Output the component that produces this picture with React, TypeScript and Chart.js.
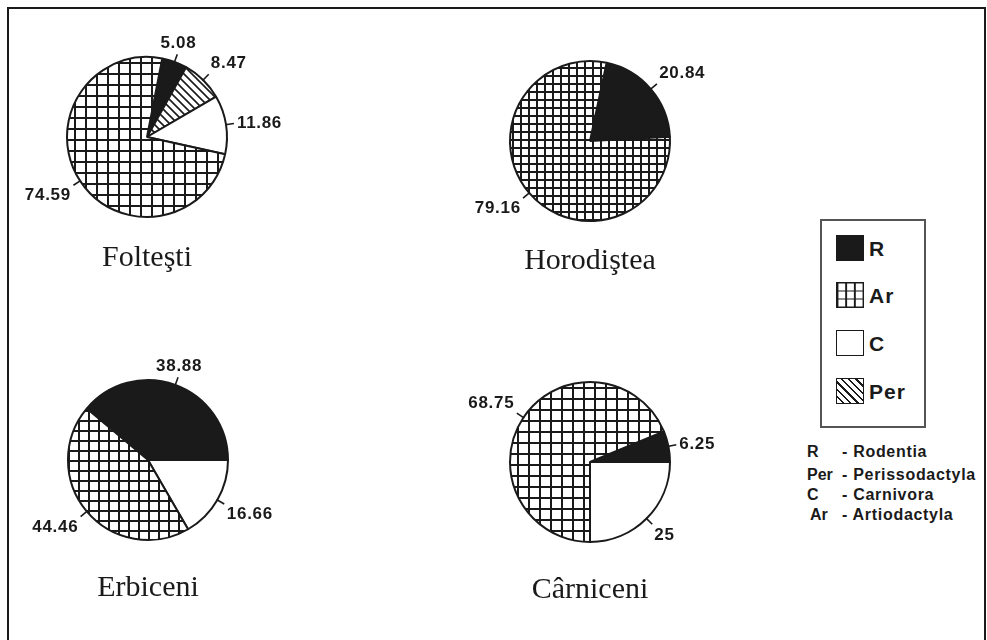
import React, { useEffect, useRef } from "react";
import { Chart, registerables } from "chart.js";

Chart.register(...registerables);

// ---- data ----
const categories = ["R", "Per", "C", "Ar"];
const categoryNames = ["Rodentia", "Perissodactyla", "Carnivora", "Artiodactyla"];
const foltestiValues = [5.08, 8.47, 11.86, 74.59];
const horodisteaValues = [20.84, 0, 0, 79.16];
const erbiceniValues = [38.88, 0, 16.66, 44.46];
const carniceniValues = [6.25, 0, 25, 68.75];
const siteNames = ["Folteşti", "Horodiştea", "Erbiceni", "Cârniceni"];
const legendOrder = ["R", "Ar", "C", "Per"];
const noteOrder = ["R", "Per", "C", "Ar"];

// ---- layout ----
const pies = [
  { values: foltestiValues, cx: 147, cy: 137, rotation: 11, cell: 11, title: siteNames[0], titleTop: 241 },
  { values: horodisteaValues, cx: 590, cy: 141, rotation: 12, cell: 8, title: siteNames[1], titleTop: 244 },
  { values: erbiceniValues, cx: 148, cy: 460, rotation: -50, cell: 10, title: siteNames[2], titleTop: 571 },
  { values: carniceniValues, cx: 590, cy: 462, rotation: 67.5, cell: 11, title: siteNames[3], titleTop: 573 },
];

const INK = "#1a1a1a";
const CW = 300;
const CH = 260;

function gridPattern(ctx: CanvasRenderingContext2D, cell: number) {
  const c = document.createElement("canvas");
  c.width = cell;
  c.height = cell;
  const g = c.getContext("2d")!;
  g.fillStyle = "#fff";
  g.fillRect(0, 0, cell, cell);
  g.fillStyle = INK;
  g.fillRect(0, 0, cell, 2);
  g.fillRect(0, 0, 2, cell);
  return ctx.createPattern(c, "repeat")!;
}

function hatchPattern(ctx: CanvasRenderingContext2D) {
  const s = 8;
  const c = document.createElement("canvas");
  c.width = s;
  c.height = s;
  const g = c.getContext("2d")!;
  g.fillStyle = "#fff";
  g.fillRect(0, 0, s, s);
  g.strokeStyle = INK;
  g.lineWidth = 1.6;
  g.beginPath();
  g.moveTo(-1, -1);
  g.lineTo(s + 1, s + 1);
  g.moveTo(-3, s - 3);
  g.lineTo(3, s + 3);
  g.moveTo(s - 3, -3);
  g.lineTo(s + 3, 3);
  g.stroke();
  return ctx.createPattern(c, "repeat")!;
}

const labelPlugin = {
  id: "sliceLabels",
  afterDatasetsDraw(chart: any) {
    const ctx: CanvasRenderingContext2D = chart.ctx;
    const meta = chart.getDatasetMeta(0);
    const data = chart.data.datasets[0].data as number[];
    meta.data.forEach((arc: any, i: number) => {
      const v = data[i];
      if (!v) return;
      const { x, y, startAngle, endAngle, outerRadius } = arc.getProps(
        ["x", "y", "startAngle", "endAngle", "outerRadius"],
        true
      );
      const a = (startAngle + endAngle) / 2;
      const c = Math.cos(a);
      const s = Math.sin(a);
      ctx.save();
      ctx.strokeStyle = INK;
      ctx.lineWidth = 1.6;
      ctx.beginPath();
      ctx.moveTo(x + c * (outerRadius - 1), y + s * (outerRadius - 1));
      ctx.lineTo(x + c * (outerRadius + 8), y + s * (outerRadius + 8));
      ctx.stroke();
      const r = outerRadius + 11;
      ctx.font = 'bold 17px "Liberation Sans", Arial, sans-serif';
      (ctx as any).letterSpacing = "0.7px";
      ctx.textAlign = c > 0.5 ? "left" : c < -0.5 ? "right" : "center";
      ctx.textBaseline = s < -0.45 ? "bottom" : s > 0.45 ? "top" : "middle";
      ctx.fillStyle = INK;
      ctx.fillText(String(v), x + c * r, y + s * r);
      ctx.restore();
    });
  },
};

function Pie({ values, cx, cy, rotation, cell }: any) {
  const ref = useRef<HTMLCanvasElement>(null);
  useEffect(() => {
    const canvas = ref.current!;
    const ctx = canvas.getContext("2d")!;
    const chart = new Chart(canvas, {
      type: "pie",
      data: {
        labels: categories,
        datasets: [
          {
            data: values,
            backgroundColor: [INK, hatchPattern(ctx), "#ffffff", gridPattern(ctx, cell)],
            borderColor: INK,
            borderWidth: values.map((v: number) => (v ? 2 : 0)),
          },
        ],
      },
      options: {
        responsive: false,
        animation: false,
        rotation,
        radius: 80,
        events: [],
        layout: { padding: 0 },
        plugins: {
          legend: { display: false },
          tooltip: { enabled: false },
        },
      } as any,
      plugins: [labelPlugin],
    });
    return () => chart.destroy();
  }, []);
  return (
    <canvas
      ref={ref}
      width={CW}
      height={CH}
      style={{ position: "absolute", left: cx - CW / 2, top: cy - CH / 2 }}
    />
  );
}

const swatchStyle = (cat: string): React.CSSProperties => {
  const base: React.CSSProperties = {
    position: "absolute",
    left: 14,
    width: 26,
    height: 24,
    border: `1.5px solid ${INK}`,
    background: "#fff",
  };
  if (cat === "R") return { ...base, background: INK };
  if (cat === "Ar")
    return {
      ...base,
      backgroundImage: `linear-gradient(to right, ${INK} 1.5px, transparent 1.5px), linear-gradient(to bottom, ${INK} 1.5px, transparent 1.5px)`,
      backgroundSize: "8.7px 8px",
      backgroundPosition: "-0.5px -0.5px",
    };
  if (cat === "Per")
    return {
      ...base,
      backgroundImage: `repeating-linear-gradient(45deg, #fff 0px, #fff 3.6px, ${INK} 3.6px, ${INK} 5.2px)`,
    };
  return base;
};

const legendTops = [16, 63, 111, 159];
const noteTops = [443, 466, 486, 506];
const noteLeft: Record<string, number> = { R: 807, Per: 807, C: 807, Ar: 810 };

export default function App() {
  return (
    <div
      style={{
        position: "fixed",
        left: 0,
        top: 0,
        width: 987,
        height: 640,
        overflow: "hidden",
        background: "#fff",
      }}
    >
      <div
        style={{
          position: "absolute",
          left: 7,
          top: 7,
          width: 979,
          height: 700,
          border: `2.5px solid ${INK}`,
          boxSizing: "border-box",
        }}
      />
      {pies.map((p, i) => (
        <React.Fragment key={i}>
          <Pie values={p.values} cx={p.cx} cy={p.cy} rotation={p.rotation} cell={p.cell} />
          <div
            style={{
              position: "absolute",
              left: p.cx - 120,
              width: 240,
              top: p.titleTop,
              textAlign: "center",
              fontFamily: '"Liberation Serif", "Times New Roman", serif',
              fontSize: 30,
              lineHeight: "29px",
              color: INK,
            }}
          >
            {p.title}
          </div>
        </React.Fragment>
      ))}
      <div
        style={{
          position: "absolute",
          left: 820,
          top: 219,
          width: 106,
          height: 209,
          border: "2px solid #555",
          boxSizing: "border-box",
        }}
      >
        {legendOrder.map((cat, i) => (
          <React.Fragment key={cat}>
            <div style={{ ...swatchStyle(cat), top: legendTops[i] - 2 }} />
            <div
              style={{
                position: "absolute",
                left: 47,
                top: legendTops[i] - 2,
                height: 26,
                lineHeight: "28px",
                fontFamily: '"Liberation Sans", Arial, sans-serif',
                fontWeight: "bold",
                fontSize: 21,
                letterSpacing: 1,
                color: INK,
              }}
            >
              {cat}
            </div>
          </React.Fragment>
        ))}
      </div>
      {noteOrder.map((cat, i) => (
        <React.Fragment key={cat}>
          <div
            style={{
              position: "absolute",
              left: noteLeft[cat],
              top: noteTops[i],
              lineHeight: "18px",
              fontFamily: '"Liberation Sans", Arial, sans-serif',
              fontWeight: "bold",
              fontSize: 16,
              color: INK,
            }}
          >
            {cat}
          </div>
          <div
            style={{
              position: "absolute",
              left: 842,
              top: noteTops[i],
              lineHeight: "18px",
              fontFamily: '"Liberation Sans", Arial, sans-serif',
              fontWeight: "bold",
              fontSize: 16,
              letterSpacing: 0.7,
              color: INK,
              whiteSpace: "nowrap",
            }}
          >
            {"- " + categoryNames[categories.indexOf(cat)]}
          </div>
        </React.Fragment>
      ))}
    </div>
  );
}
